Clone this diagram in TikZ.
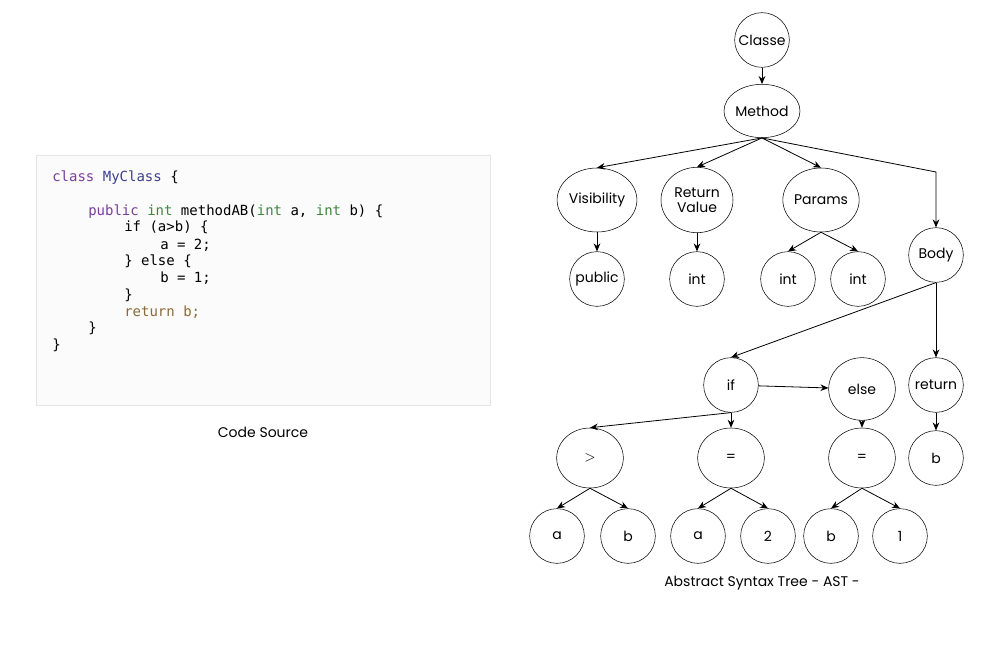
\documentclass[tikz,border=0pt]{standalone}
\usepackage{fontspec}
\setmainfont{Poppins}
\newfontfamily\codefont{DejaVu Sans Mono}
\usetikzlibrary{arrows.meta, shapes.geometric}
\definecolor{kwpurple}{HTML}{7A3E9D}
\definecolor{clsblue}{HTML}{3B3F8F}
\definecolor{typgreen}{HTML}{3C8A3C}
\definecolor{retbrown}{HTML}{8A6A3A}
\begin{document}
\begin{tikzpicture}[x=0.75pt, y=-0.75pt,
    leaf/.style={draw, circle, minimum size=41pt, inner sep=0pt, font=\fontsize{10.5}{12}\selectfont},
    oval/.style={draw, ellipse, minimum width=#1, minimum height=47pt, inner sep=0pt, font=\fontsize{10.5}{12}\selectfont, align=center},
    edge/.style={-{Stealth[length=6pt,width=5pt]}, semithick},
    code/.style={anchor=base west, inner sep=0pt, font=\codefont\fontsize{10.5}{12}\selectfont}]
    \useasboundingbox (0,0) rectangle (1000,656);
    % Code box
    \draw[gray!20, fill=gray!3] (36,155) rectangle (490,405);
    \node[code] (l1) at (52,182) {\textcolor{kwpurple}{class} \textcolor{clsblue}{MyClass} \{};
    \node[code] (l2) at (88,215) {\textcolor{kwpurple}{public} \textcolor{typgreen}{int} methodAB(\textcolor{typgreen}{int} a, \textcolor{typgreen}{int} b) \{};
    \node[code] (l3) at (124,232) {if (a>b) \{};
    \node[code] (l4) at (160,249) {a = 2;};
    \node[code] (l5) at (124,266) {\} else \{};
    \node[code] (l6) at (160,282) {b = 1;};
    \node[code] (l7) at (124,299) {\}};
    \node[code] (l8) at (124,316) {\textcolor{retbrown}{return b;}};
    \node[code] (l9) at (88,332) {\}};
    \node[code] (l10) at (52,349) {\}};
    \node[font=\fontsize{10.5}{12}\selectfont] (codecap) at (263,432) {Code Source};

    % Tree
    \node[leaf] (classe) at (762,40) {Classe};
    \node[oval=57pt, minimum height=40pt] (method) at (762,111) {Method};
    \node[oval=57pt, minimum height=48pt] (vis) at (597,200) {Visibility};
    \node[oval=54pt, minimum height=49pt] (ret) at (697,200) {Return\\[-1pt]Value};
    \node[oval=53pt, minimum height=48pt] (params) at (821,200) {Params};
    \node[leaf] (body) at (936,255) {Body};
    \node[leaf] (pub) at (597,279) {public};
    \node[leaf] (rint) at (697,279) {int};
    \node[leaf] (pint1) at (788,279) {int};
    \node[leaf] (pint2) at (858,279) {int};
    \node[leaf] (if) at (731,385) {if};
    \node[oval=50pt] (else) at (862,389) {else};
    \node[leaf] (return) at (936,385) {return};
    \node[leaf] (rb) at (936,458) {b};
    \node[oval=50pt, minimum height=45pt] (gt) at (590,458) {$>$};
    \node[oval=50pt, minimum height=45pt] (eq1) at (731,458) {=};
    \node[oval=50pt, minimum height=45pt] (eq2) at (862,458) {=};
    \node[leaf] (ga) at (557,536) {a};
    \node[leaf] (gb) at (628,536) {b};
    \node[leaf] (ea) at (698,536) {a};
    \node[leaf] (e2) at (768,536) {2};
    \node[leaf] (eb) at (831,536) {b};
    \node[leaf] (e1) at (900,536) {1};
    \node[font=\fontsize{10.5}{12}\selectfont] (astcap) at (762,583) {Abstract Syntax Tree - AST -};

    \coordinate (bend) at (936,172);
    \draw[edge] (classe) -- (method);
    \draw[edge] (method.south) -- (vis.north);
    \draw[edge] (method.south) -- (ret.north);
    \draw[edge] (method.south) -- (params.north);
    \draw[edge] (method.south) -- (bend) -- (body.north);
    \draw[edge] (vis) -- (pub);
    \draw[edge] (ret) -- (rint);
    \draw[edge] (params.south) -- (pint1.north);
    \draw[edge] (params.south) -- (pint2.north);
    \draw[edge] (body.south) -- (if.north);
    \draw[edge] (body) -- (return);
    \draw[edge] (return) -- (rb);
    \draw[edge] (if) -- (else);
    \draw[edge] (if.south) -- (gt.north);
    \draw[edge] (if.south) -- (eq1.north);
    \draw[edge] (else) -- (eq2);
    \draw[edge] (gt.south) -- (ga.north);
    \draw[edge] (gt.south) -- (gb.north);
    \draw[edge] (eq1.south) -- (ea.north);
    \draw[edge] (eq1.south) -- (e2.north);
    \draw[edge] (eq2.south) -- (eb.north);
    \draw[edge] (eq2.south) -- (e1.north);
\end{tikzpicture}
\end{document}
